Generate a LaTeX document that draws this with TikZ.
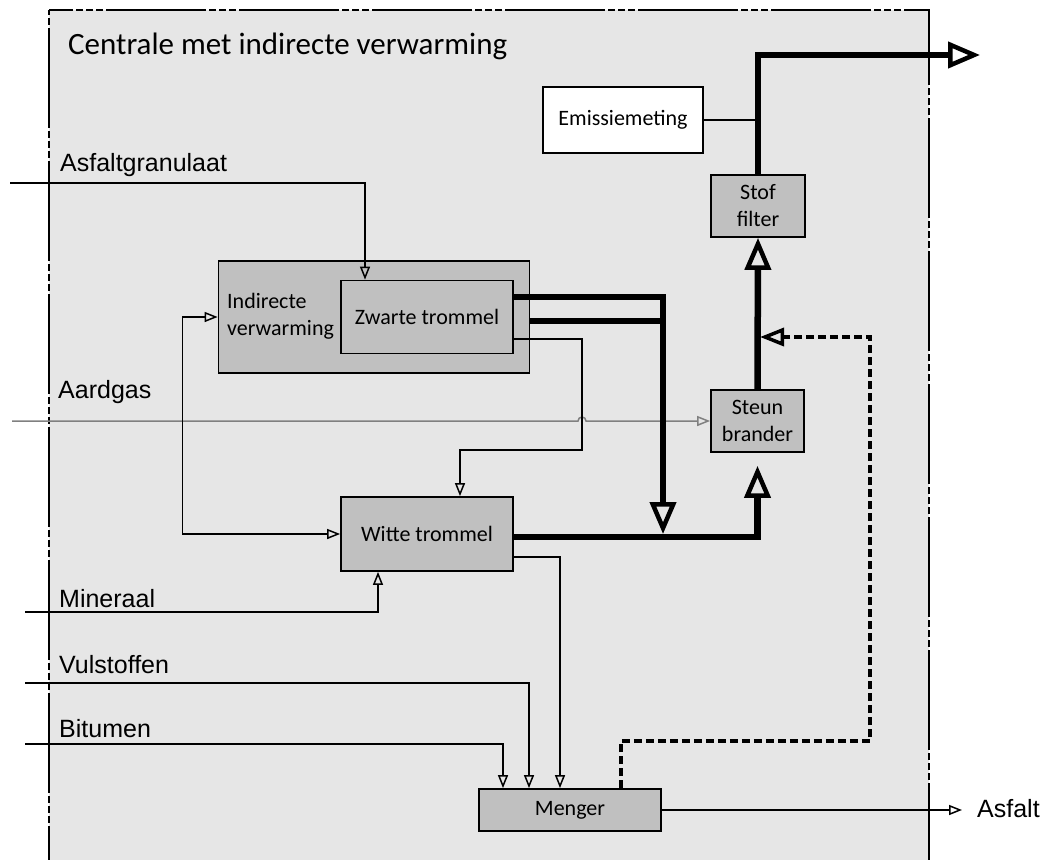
\documentclass[tikz,border=0pt]{standalone}
\usepackage{fontspec}
\setmainfont{Carlito}
\newfontfamily\arialfont{Liberation Sans}
\usepackage{tikz}
\usetikzlibrary{calc}
\usetikzlibrary{arrows.meta}
\definecolor{kadergrijs}{HTML}{E6E6E6}
\definecolor{doosgrijs}{HTML}{C0C0C0}
\definecolor{gasgrijs}{HTML}{808080}

\begin{document}
\begin{tikzpicture}[x=1pt,y=-1pt,
  klein/.tip={Triangle[open,length=13pt,width=10pt]},
  groot/.tip={Triangle[open,length=32pt,width=26pt,line width=4.5pt]},
  middel/.tip={Triangle[open,length=24pt,width=18pt,line width=3.5pt]},
  doos/.style={draw,line width=1.8pt,fill=doosgrijs,font=\fontsize{22}{27}\selectfont,align=center,inner sep=0pt},
  invoer/.style={font=\arialfont\fontsize{25}{30}\selectfont,anchor=base west,inner sep=0pt},
  dun/.style={line width=1.5pt},
  dik/.style={line width=6.5pt},
  retourlijn/.style={line width=4pt,dash pattern=on 8pt off 4pt},
  kader/.style={line width=1.5pt,dash pattern=on 100pt off 3pt on 7pt off 3pt on 7pt off 3pt on 7pt off 3pt,dash phase=76pt}]
\useasboundingbox (0,0) rectangle (1046,859);
\fill[kadergrijs] (49,10) rectangle (929,880);
\draw[kader] (49,10) -- (929,10) -- (929,880) -- (49,880) -- cycle;
\node[anchor=base west,inner sep=0pt,font=\fontsize{31}{36}\selectfont] (titel) at (68,55) {Centrale met indirecte verwarming};

\node[doos,fill=white,minimum width=160pt,minimum height=66pt] (emissie) at (623,120) {Emissiemeting};
\node[doos,minimum width=94pt,minimum height=62pt] (stof) at (758,206) {Stof\\filter};
\node[doos,minimum width=311pt,minimum height=112pt] (ind) at (374,317) {};
\node[anchor=west,align=left,inner sep=0pt,font=\fontsize{22}{27}\selectfont] (indtekst) at (227,316) {Indirecte\\verwarming};
\node[doos,minimum width=172pt,minimum height=73pt] (zwart) at (427,317) {Zwarte trommel};
\node[doos,minimum width=93pt,minimum height=62pt] (steun) at (757.5,421) {Steun\\brander};
\node[doos,minimum width=172pt,minimum height=74pt] (wit) at (427,534) {Witte trommel};
\node[doos,minimum width=182pt,minimum height=42pt] (menger) at (570,810) {Menger};

\coordinate (uitlaat) at (980,55);
\coordinate (retour) at (760,337);
\coordinate (hoek) at (870,741);
\coordinate (samen) at (663,534);
\coordinate (splits) at (582,450);
\coordinate (asfin) at (10,183);
\coordinate (gasin) at (12,421);
\coordinate (minin) at (25,612);
\coordinate (vulin) at (25,683);
\coordinate (bitin) at (25,744);

\node[invoer] (asflabel) at (60,171) {Asfaltgranulaat};
\node[invoer] (gaslabel) at (58,398) {Aardgas};
\node[invoer] (minlabel) at (59,607) {Mineraal};
\node[invoer] (vullabel) at (59,673) {Vulstoffen};
\node[invoer] (bitlabel) at (59,737) {Bitumen};
\node[invoer] (asfalt) at (977,817) {Asfalt};

\draw[dun,gasgrijs,-{klein}] (gasin) -- ($(gasin -| splits)+(-4,0)$) arc (180:360:4) -- (steun.west);

\draw[dik,-{groot}] (stof.north) |- (uitlaat);
\draw[dun] (emissie.east) -- (emissie.east -| stof.north);
\draw[dik,-{groot}] (steun.north) -- (stof.south);
\draw[retourlijn,-{middel}] ($(menger.north)+(51,0)$) |- (hoek) |- (retour);
\draw[dik,-{groot}] ($(zwart.east)+(0,-20)$) -| (samen);
\draw[dik] ($(ind.east)+(0,4)$) -- ($(ind.east -| samen)+(0,4)$);
\draw[dik,-{groot},shorten >=13pt] ($(wit.east)+(0,3)$) -| (steun.south);

\draw[dun,-{klein}] (asfin) -| ($(zwart.north)+(-62,0)$);
\draw[dun,-{klein}] ($(zwart.east)+(0,22)$) -| (splits) -| ($(wit.north)+(33,0)$);
\draw[dun,{klein}-{klein}] (ind.west) -- ++(-35,0) |- (wit.west);
\draw[dun,-{klein}] (minin) -| ($(wit.south)+(-49,0)$);
\draw[dun,-{klein}] (vulin) -| ($(menger.north)+(-41,0)$);
\draw[dun,-{klein}] (bitin) -| ($(menger.north)+(-67,0)$);
\draw[dun,-{klein}] ($(wit.east)+(0,23)$) -| ($(menger.north)+(-10,0)$);
\draw[dun,-{klein},shorten >=15pt] (menger.east) -- (menger.east -| asfalt.west);
\end{tikzpicture}
\end{document}
